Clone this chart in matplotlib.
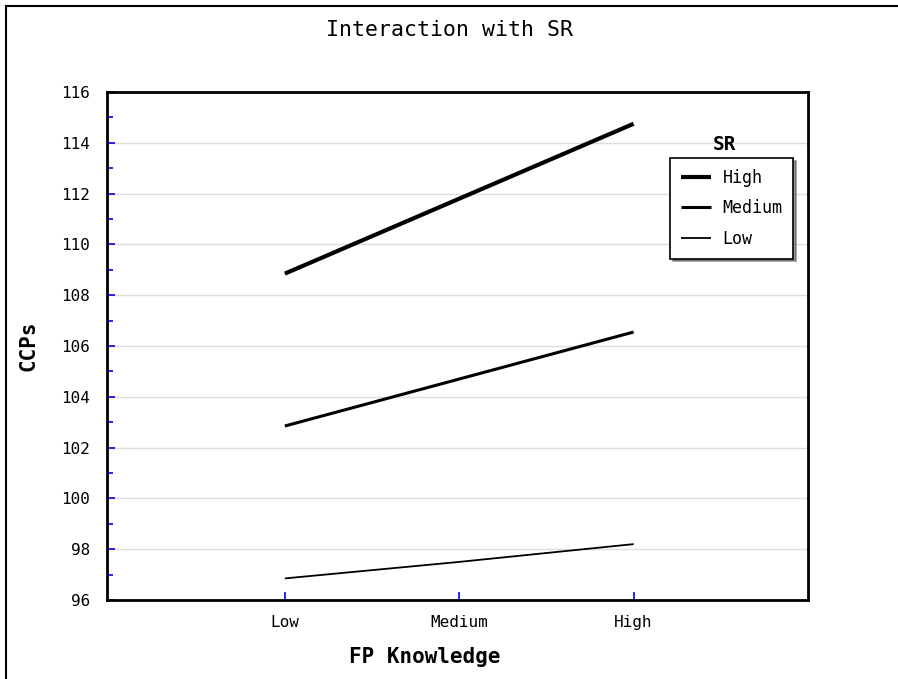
import matplotlib.pyplot as plt
from matplotlib.lines import Line2D

categorie = ["Low", "Medium", "High"]
sr_high = [108.85, 111.8, 114.75]
sr_medium = [102.85, 104.7, 106.55]
sr_low = [96.85, 97.5, 98.2]
y_ticks = [96, 98, 100, 102, 104, 106, 108, 110, 112, 114, 116]

W, H = 898, 679
fig = plt.figure(figsize=(W / 100, H / 100), dpi=100, facecolor="white")
ax = fig.add_axes([107 / W, 1 - 600 / H, (808 - 107) / W, (600 - 92) / H])

x = range(len(categorie))
ax.plot(x, sr_high, color="black", linewidth=3.0, label="High", solid_capstyle="butt")
ax.plot(x, sr_medium, color="black", linewidth=2.2, label="Medium", solid_capstyle="butt")
ax.plot(x, sr_low, color="black", linewidth=1.3, label="Low", solid_capstyle="butt")

ax.set_xlim(-1.02, 3.0)
ax.set_ylim(96, 116)
ax.set_xticks(list(x))
ax.set_xticklabels(categorie)
ax.set_yticks(y_ticks)
ax.set_yticks(range(97, 116, 2), minor=True)
ax.grid(True, axis="y", color="#dddddd", linewidth=1)
ax.set_axisbelow(True)

mono = "DejaVu Sans Mono"
ax.tick_params(axis="both", which="both", direction="in", color="blue", width=1.2,
               labelsize=11.5)
ax.tick_params(which="major", length=6)
ax.tick_params(which="minor", length=4)
ax.tick_params(axis="x", pad=11)
ax.tick_params(axis="y", pad=12)
for lab in ax.get_xticklabels() + ax.get_yticklabels():
    lab.set_family(mono)
for s in ax.spines.values():
    s.set_linewidth(2)

ax.set_xlabel("FP Knowledge", fontsize=15, fontweight="bold", family=mono)
ax.xaxis.set_label_coords((424.5 - 107) / 701, -(657 - 600) / 508)
ax.xaxis.label.set_va("center")
ax.set_ylabel("CCPs", fontsize=15, fontweight="bold", family=mono)
ax.yaxis.set_label_coords(-(107 - 28) / 701, 0.5)
ax.yaxis.label.set_va("center")
fig.text(0.5, 1 - 30 / H, "Interaction with SR", ha="center", va="center",
         fontsize=15.5, family=mono)

leg = ax.legend(loc="upper left", bbox_to_anchor=((670 - 107) / 701, (600 - 158) / 508),
                frameon=True, fancybox=False, shadow={"color": "#555555", "alpha": 0.6},
                edgecolor="black", prop={"family": mono, "size": 12}, handlelength=1.8,
                borderpad=0.65, labelspacing=0.75, borderaxespad=0, handletextpad=0.7)
leg.get_frame().set_linewidth(1.2)
ax.text((725 - 107) / 701, (600 - 145) / 508, "SR", transform=ax.transAxes,
        ha="center", va="center", fontsize=14, fontweight="bold", family=mono)

fig.add_artist(Line2D([6 / W, 6 / W], [0, 1 - 6 / H], color="black", linewidth=1.5))
fig.add_artist(Line2D([6 / W, 1], [1 - 6 / H, 1 - 6 / H], color="black", linewidth=1.5))

fig.savefig("out.png", dpi=100)
